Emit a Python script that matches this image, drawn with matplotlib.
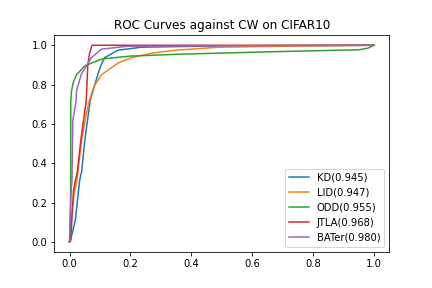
import matplotlib
matplotlib.use('Agg')
import matplotlib.pyplot as plt

# ROC points (fpr, tpr)
kd_fpr = [0.0, 0.002, 0.019, 0.033, 0.04, 0.05, 0.068, 0.083, 0.1, 0.115, 0.16, 0.235, 0.5, 1.0]
kd_tpr = [0.0, 0.0, 0.11, 0.31, 0.36, 0.515, 0.72, 0.80, 0.886, 0.937, 0.975, 0.99, 0.997, 1.0]

lid_fpr = [0.0, 0.005, 0.015, 0.024, 0.04, 0.055, 0.065, 0.08, 0.105, 0.16, 0.2, 0.27, 0.35, 0.49, 0.7, 1.0]
lid_tpr = [0.0, 0.1, 0.25, 0.31, 0.52, 0.65, 0.72, 0.79, 0.85, 0.91, 0.935, 0.96, 0.975, 0.99, 0.995, 1.0]

odd_fpr = [0.0, 0.002, 0.004, 0.004, 0.007, 0.012, 0.023, 0.05, 0.105, 0.2, 0.37, 0.69, 0.95, 0.98, 1.0]
odd_tpr = [0.0, 0.05, 0.3, 0.72, 0.77, 0.81, 0.85, 0.895, 0.93, 0.945, 0.955, 0.968, 0.977, 0.985, 1.0]

jtla_fpr = [0.0, 0.004, 0.013, 0.019, 0.026, 0.037, 0.055, 0.06, 0.066, 0.074, 1.0]
jtla_tpr = [0.0, 0.01, 0.26, 0.31, 0.36, 0.515, 0.72, 0.9, 0.96, 1.0, 1.0]

bater_fpr = [0.0, 0.002, 0.005, 0.008, 0.011, 0.022, 0.023, 0.039, 0.072, 0.105, 0.19, 1.0]
bater_tpr = [0.0, 0.1, 0.25, 0.31, 0.62, 0.72, 0.77, 0.853, 0.937, 0.98, 0.995, 1.0]

labels = ['KD(0.945)', 'LID(0.947)', 'ODD(0.955)', 'JTLA(0.968)', 'BATer(0.980)']

fig = plt.figure(figsize=(6, 4), dpi=72)
fig.subplots_adjust(left=0.1257, right=0.901, bottom=0.126, top=0.877)
plt.plot(kd_fpr, kd_tpr, label=labels[0])
plt.plot(lid_fpr, lid_tpr, label=labels[1])
plt.plot(odd_fpr, odd_tpr, label=labels[2])
plt.plot(jtla_fpr, jtla_tpr, label=labels[3])
plt.plot(bater_fpr, bater_tpr, label=labels[4])
plt.title('ROC Curves against CW on CIFAR10')
plt.legend(loc='lower right')
plt.savefig('out.png')
